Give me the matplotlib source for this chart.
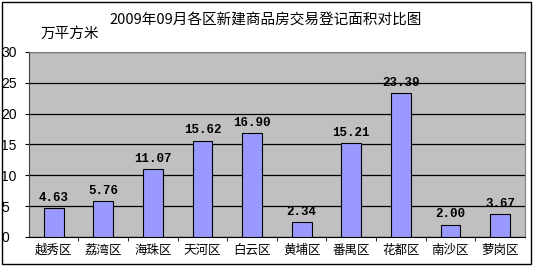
import matplotlib
matplotlib.use("Agg")
import matplotlib.pyplot as plt
from matplotlib.patches import Rectangle

plt.rcParams['font.family'] = ['Liberation Sans', 'Noto Sans CJK SC']

# 各区新建商品房交易登记面积（万平方米）
districts = ['越秀区', '荔湾区', '海珠区', '天河区', '白云区',
             '黄埔区', '番禺区', '花都区', '南沙区', '萝岗区']
areas = [4.63, 5.76, 11.07, 15.62, 16.90, 2.34, 15.21, 23.39, 2.00, 3.67]
yticks = [0, 5, 10, 15, 20, 25, 30]

fig = plt.figure(figsize=(5.35, 2.68), dpi=100)
ax = fig.add_axes([0.054, 0.116, 0.927, 0.69])
ax.set_facecolor('#c0c0c0')

x = range(len(districts))
bars = ax.bar(x, areas, width=0.4, color='#9999ff', edgecolor='black',
              linewidth=0.8, zorder=3)
for b, v in zip(bars, areas):
    ax.annotate(f'{v:.2f}', (b.get_x() + b.get_width() / 2, v),
                xytext=(0, 3), textcoords='offset points',
                ha='center', va='bottom', fontsize=9, fontweight='bold',
                family='Liberation Mono', zorder=4)

ax.set_xlim(-0.5, len(districts) - 0.5)
ax.set_ylim(0, 30)
ax.set_yticks(yticks)
ax.set_yticklabels([str(t) for t in yticks], fontsize=10, ha='left')
ax.tick_params(axis='y', length=3, pad=17)
ax.set_xticks(list(x))
ax.set_xticklabels(districts, fontsize=9, family=['Noto Sans CJK SC'])
ax.set_xticks([i + 0.5 for i in x][:-1], minor=True)
ax.tick_params(axis='x', which='major', length=0, pad=5)
ax.tick_params(axis='x', which='minor', length=3)
ax.yaxis.grid(True, color='black', linewidth=0.9, zorder=1)
ax.set_axisbelow(True)

for side in ('top', 'right'):
    ax.spines[side].set_color('#808080')
ax.spines['left'].set_color('#404040')
ax.spines['bottom'].set_color('black')

fig.text(0.497, 0.925, '2009年09月各区新建商品房交易登记面积对比图',
         ha='center', va='center', fontsize=10.5,
         family=['Noto Sans CJK SC'])
fig.text(0.075, 0.875, '万平方米', ha='left', va='center', fontsize=10.5,
         family=['Noto Sans CJK SC'])

# 外框
fig.patches.append(Rectangle((0.003, 0.015), 0.989, 0.978, transform=fig.transFigure,
                             fill=False, edgecolor='black', linewidth=1))

fig.savefig('out.png', dpi=100)
